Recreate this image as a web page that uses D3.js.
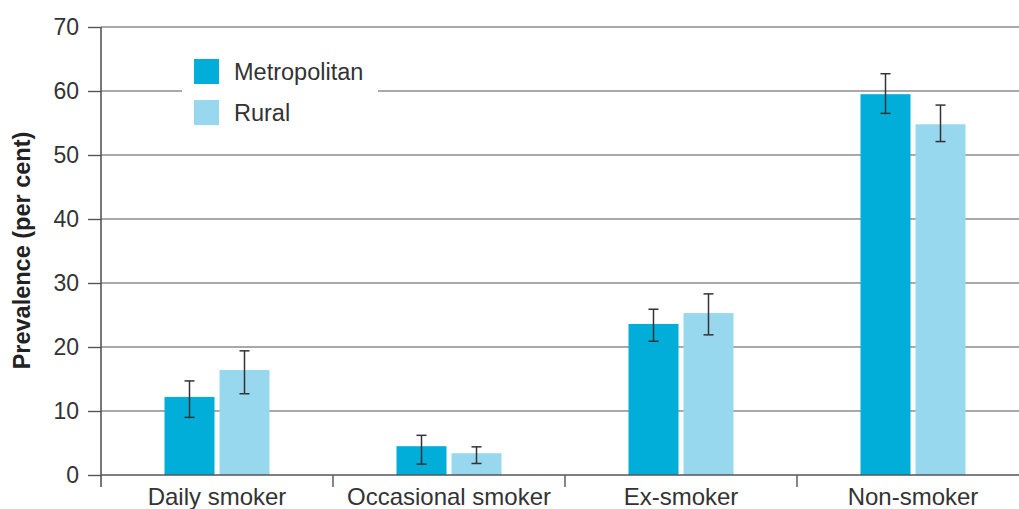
<!DOCTYPE html>
<html>
<head>
<meta charset="utf-8">
<script src="https://cdn.jsdelivr.net/npm/d3@7"></script>
<style>
  html, body { margin: 0; padding: 0; background: #fff; }
  svg { display: block; font-family: "Liberation Sans", Arial, sans-serif; }
</style>
</head>
<body>
<svg id="chart" width="1019" height="509"></svg>
<script>
// Smoking status by area
const categories = ["Daily smoker", "Occasional smoker", "Ex-smoker", "Non-smoker"];
const seriesNames = ["Metropolitan", "Rural"];
const metroValues = [12.2, 4.5, 23.6, 59.5];
const metroLow    = [9.0, 1.7, 20.9, 56.5];
const metroHigh   = [14.7, 6.2, 25.9, 62.7];
const ruralValues = [16.4, 3.4, 25.3, 54.8];
const ruralLow    = [12.7, 1.8, 21.9, 52.1];
const ruralHigh   = [19.4, 4.4, 28.3, 57.8];
const yTicks = [0, 10, 20, 30, 40, 50, 60, 70];
const yTitle = "Prevalence (per cent)";

const colors = { Metropolitan: "#00aed9", Rural: "#97d8ef" };

const svg = d3.select("#chart");
const plotLeft = 101, plotRight = 1029, plotTop = 27, plotBottom = 475;

const x = d3.scaleBand().domain(categories).range([plotLeft, plotRight]).padding(0);
const xInner = d3.scaleBand().domain(seriesNames)
  .range([-52.5, 52.5]).paddingInner(1 / 11).paddingOuter(0);
const y = d3.scaleLinear().domain([0, 70]).range([plotBottom, plotTop]);

const rows = [];
categories.forEach((c, i) => {
  rows.push({ cat: c, series: "Metropolitan", v: metroValues[i], lo: metroLow[i], hi: metroHigh[i] });
  rows.push({ cat: c, series: "Rural", v: ruralValues[i], lo: ruralLow[i], hi: ruralHigh[i] });
});

// Gridlines
svg.append("g")
  .selectAll("line")
  .data(yTicks.filter(t => t > 0))
  .join("line")
  .attr("x1", plotLeft).attr("x2", 1019)
  .attr("y1", d => y(d)).attr("y2", d => y(d))
  .attr("stroke", "#8c8c8c").attr("stroke-width", 1.4);

// Legend (white box interrupts the gridline)
const legend = svg.append("g");
legend.append("rect")
  .attr("x", 182).attr("y", 45).attr("width", 196).attr("height", 95)
  .attr("fill", "#fff");
seriesNames.forEach((s, i) => {
  const ly = 59 + i * 41;
  legend.append("rect")
    .attr("x", 194).attr("y", ly).attr("width", 25).attr("height", 25)
    .attr("fill", colors[s]);
  legend.append("text")
    .attr("x", 234).attr("y", ly + 21)
    .attr("font-size", 23.5).attr("fill", "#333")
    .text(s);
});

// Bars
svg.append("g")
  .selectAll("rect")
  .data(rows)
  .join("rect")
  .attr("x", d => x(d.cat) + x.bandwidth() / 2 + xInner(d.series))
  .attr("width", xInner.bandwidth())
  .attr("y", d => y(d.v))
  .attr("height", d => y(0) - y(d.v))
  .attr("fill", d => colors[d.series]);

// Error bars
const err = svg.append("g")
  .attr("stroke", "#333").attr("stroke-width", 1.5);
rows.forEach(d => {
  const cx = x(d.cat) + x.bandwidth() / 2 + xInner(d.series) + xInner.bandwidth() / 2;
  err.append("line").attr("x1", cx).attr("x2", cx).attr("y1", y(d.lo)).attr("y2", y(d.hi));
  err.append("line").attr("x1", cx - 5).attr("x2", cx + 5).attr("y1", y(d.lo)).attr("y2", y(d.lo));
  err.append("line").attr("x1", cx - 5).attr("x2", cx + 5).attr("y1", y(d.hi)).attr("y2", y(d.hi));
});

// Y axis
const yAxis = svg.append("g")
  .attr("transform", `translate(${plotLeft},0)`)
  .call(d3.axisLeft(y).tickValues(yTicks).tickSize(13).tickPadding(9).tickFormat(d3.format("d")));
yAxis.select(".domain").remove();
yAxis.selectAll(".tick line").attr("stroke", "#555").attr("stroke-width", 1.4);
yAxis.selectAll(".tick text")
  .attr("font-size", 23).attr("fill", "#333")
  .attr("font-family", "Liberation Sans, Arial, sans-serif");
svg.append("line")
  .attr("x1", plotLeft).attr("x2", plotLeft).attr("y1", plotTop).attr("y2", plotBottom + 12)
  .attr("stroke", "#555").attr("stroke-width", 1.6);

// X axis
const xAxis = svg.append("g")
  .attr("transform", `translate(0,${plotBottom})`)
  .call(d3.axisBottom(x).tickSize(0).tickPadding(0));
xAxis.select(".domain").remove();
xAxis.selectAll(".tick text")
  .attr("y", 30).attr("dy", 0)
  .attr("font-size", 24).attr("fill", "#333")
  .attr("font-family", "Liberation Sans, Arial, sans-serif");
svg.append("line")
  .attr("x1", plotLeft).attr("x2", 1019).attr("y1", plotBottom).attr("y2", plotBottom)
  .attr("stroke", "#555").attr("stroke-width", 1.6);
svg.append("g")
  .selectAll("line")
  .data(categories.slice(1))
  .join("line")
  .attr("x1", d => x(d)).attr("x2", d => x(d))
  .attr("y1", plotBottom).attr("y2", plotBottom + 12)
  .attr("stroke", "#555").attr("stroke-width", 1.4);

// Y title
svg.append("text")
  .attr("transform", `translate(30,${(133 + 368) / 2}) rotate(-90)`)
  .attr("text-anchor", "middle")
  .attr("font-size", 23.5).attr("font-weight", "bold").attr("fill", "#222")
  .text(yTitle);
</script>
</body>
</html>
